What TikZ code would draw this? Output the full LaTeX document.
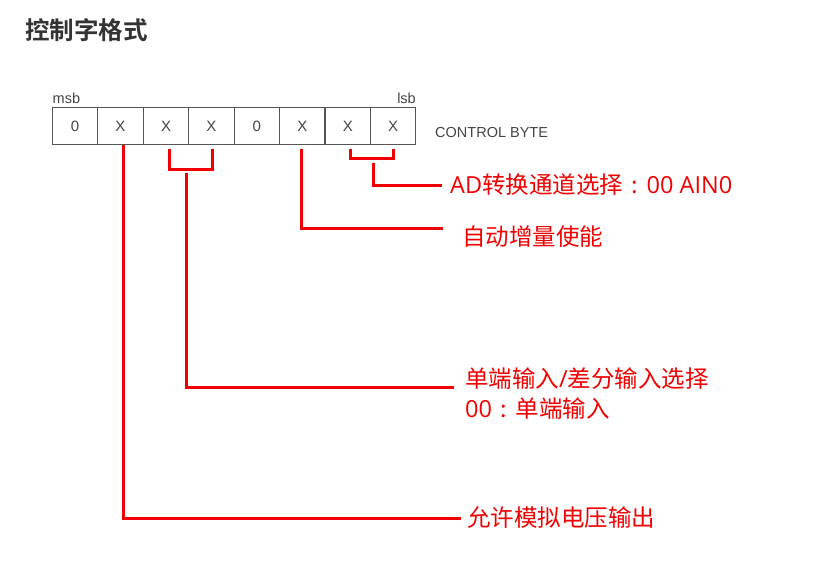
\documentclass[tikz,border=0pt]{standalone}
\usepackage{fontspec}
\setmainfont{Liberation Sans}
\newfontfamily\cjk{Noto Sans CJK SC}
\newfontfamily\cjkbold{Noto Sans CJK SC Bold}
\newfontfamily\lat{Open Sans}
\newcommand{\fcolon}{\hspace{0.36em}:\hspace{0.36em}}
\definecolor{boxgray}{HTML}{555555}
\definecolor{titlegray}{HTML}{333333}
\definecolor{lred}{HTML}{F00000}
\begin{document}
\begin{tikzpicture}[x=1pt,y=-1pt,
  cell/.style={draw=boxgray,line width=1.1pt,minimum width=45.46pt,minimum height=36.3pt,inner sep=0pt,
    font=\fontsize{15}{15}\selectfont,text=boxgray!80!black},
  small/.style={inner sep=0pt,font=\fontsize{14.5}{14.5}\selectfont,text=boxgray!80!black},
  lbl/.style={inner sep=0pt,anchor=west,text=lred,font=\cjk\fontsize{23.5}{23.5}\selectfont},
  wire/.style={draw=lred,line width=3pt}]
\useasboundingbox (0,0) rectangle (813,566);
\fill[white] (0,0) rectangle (813,566);
% title
\node[inner sep=0pt,anchor=west,text=titlegray,font=\cjkbold\fontsize{24.5}{24.5}\selectfont] (title) at (25,30) {控制字格式};
% byte cells
\node[cell] (b7) at (75.0,125.9) {0};
\node[cell] (b6) at (120.5,125.9) {X};
\node[cell] (b5) at (166.0,125.9) {X};
\node[cell] (b4) at (211.4,125.9) {X};
\node[cell] (b3) at (256.9,125.9) {0};
\node[cell] (b2) at (302.3,125.9) {X};
\node[cell] (b1) at (347.8,125.9) {X};
\node[cell] (b0) at (393.2,125.9) {X};
\node[small,anchor=south west] (msb) at (52.5,104) {msb};
\node[small,anchor=south east] (lsb) at (416,104) {lsb};
\node[small,anchor=west] (cb) at (435,133) {CONTROL BYTE};
% labels
\node[lbl] (l0) at (450,185) {{\lat AD}转换通道选择\fcolon{\lat 00 AIN0}};
\node[lbl] (l2) at (462,237) {自动增量使能};
\node[lbl] (l4a) at (465,379) {单端输入{\lat /}差分输入选择};
\node[lbl] (l4b) at (465,409) {{\lat 00}\fcolon 单端输入};
\node[lbl] (l6) at (467,518) {允许模拟电压输出};
% connectors
\coordinate (s10) at (373,163);
\coordinate (s54) at (186,173);
\draw[wire] ([xshift=3pt,yshift=-4pt]b1.south) |- ++(0,10) -| ([yshift=-4pt]b0.south);
\draw[wire] (s10) |- ([xshift=-8pt]l0.west);
\draw[wire] ([xshift=-1pt,yshift=-4pt]b2.south) |- ([xshift=-19pt,yshift=9pt]l2.west);
\draw[wire] ([xshift=3pt,yshift=-4pt]b5.south) |- ++(0,21) -| ([xshift=0.6pt,yshift=-4pt]b4.south);
\draw[wire] (s54) |- ([xshift=-11pt,yshift=-8pt]l4a.west);
\draw[wire] ([xshift=3pt]b6.south) |- ([xshift=-6pt]l6.west);
\end{tikzpicture}
\end{document}
